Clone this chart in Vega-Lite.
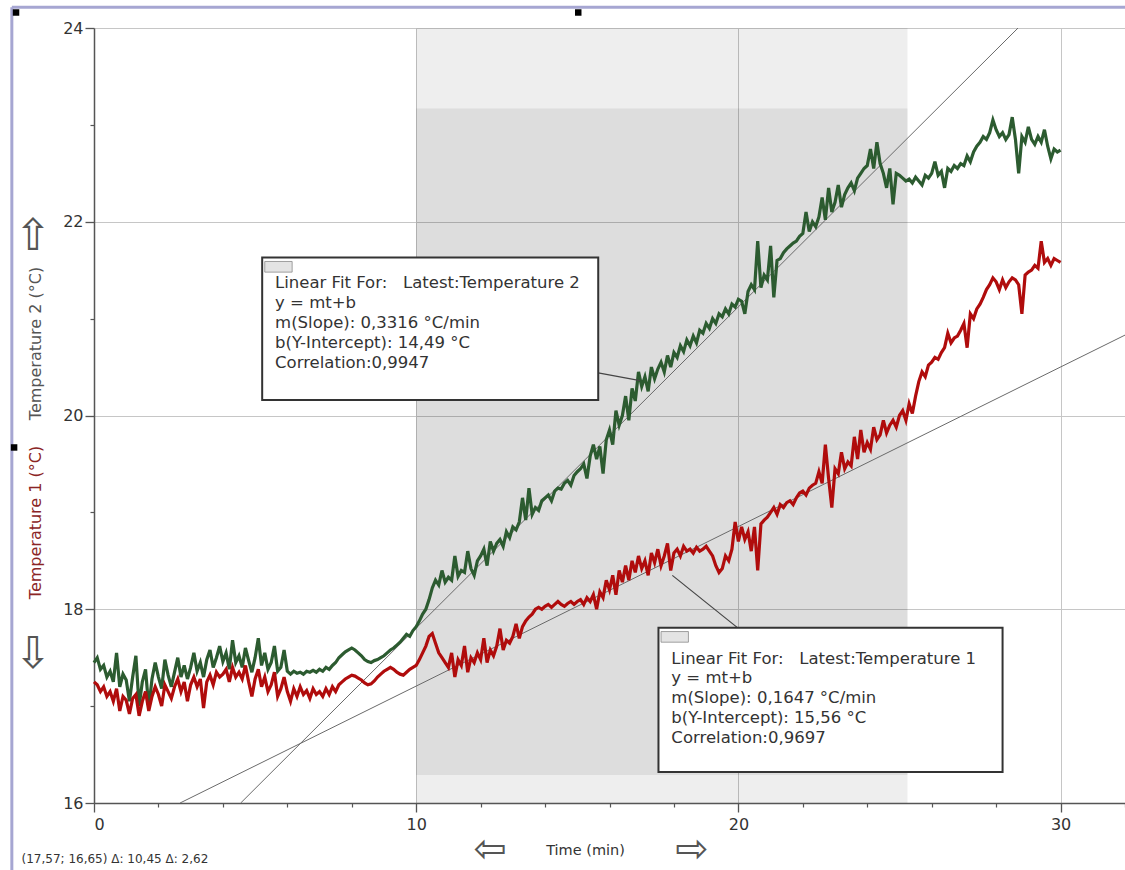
{
  "$schema": "https://vega.github.io/schema/vega-lite/v6.json",
  "width": 1031,
  "height": 775,
  "autosize": "none",
  "padding": {"left": 94, "top": 28, "right": 0, "bottom": 67},
  "background": "white",
  "config": {"view": {"stroke": null}, "font": "DejaVu Sans"},
  "datasets": {
    "temps": [
      {"t":0.0,"g":17.45,"r":17.25},{"t":0.1,"g":17.50,"r":17.22},{"t":0.2,"g":17.38,"r":17.15},{"t":0.3,"g":17.42,"r":17.20},{"t":0.4,"g":17.30,"r":17.10},
      {"t":0.5,"g":17.36,"r":17.15},{"t":0.6,"g":17.25,"r":17.05},{"t":0.7,"g":17.55,"r":17.18},{"t":0.8,"g":17.20,"r":16.95},{"t":0.9,"g":17.33,"r":17.10},
      {"t":1.0,"g":17.27,"r":17.06},{"t":1.1,"g":17.05,"r":16.92},{"t":1.2,"g":17.30,"r":17.08},{"t":1.3,"g":17.52,"r":17.12},{"t":1.4,"g":17.00,"r":16.90},
      {"t":1.5,"g":17.25,"r":17.05},{"t":1.6,"g":17.38,"r":17.15},{"t":1.7,"g":16.98,"r":16.95},{"t":1.8,"g":17.28,"r":17.10},{"t":1.9,"g":17.45,"r":17.20},
      {"t":2.0,"g":17.30,"r":17.12},{"t":2.1,"g":17.18,"r":17.00},{"t":2.2,"g":17.48,"r":17.22},{"t":2.3,"g":17.32,"r":17.15},{"t":2.4,"g":17.20,"r":17.08},
      {"t":2.5,"g":17.35,"r":17.20},{"t":2.6,"g":17.50,"r":17.28},{"t":2.7,"g":17.30,"r":17.15},{"t":2.8,"g":17.42,"r":17.25},{"t":2.9,"g":17.28,"r":17.05},
      {"t":3.0,"g":17.40,"r":17.22},{"t":3.1,"g":17.55,"r":17.30},{"t":3.2,"g":17.36,"r":17.20},{"t":3.3,"g":17.45,"r":17.28},{"t":3.4,"g":17.30,"r":16.98},
      {"t":3.5,"g":17.48,"r":17.25},{"t":3.6,"g":17.58,"r":17.32},{"t":3.7,"g":17.40,"r":17.22},{"t":3.8,"g":17.50,"r":17.35},{"t":3.9,"g":17.62,"r":17.30},
      {"t":4.0,"g":17.46,"r":17.33},{"t":4.1,"g":17.55,"r":17.38},{"t":4.2,"g":17.38,"r":17.25},{"t":4.3,"g":17.68,"r":17.40},{"t":4.4,"g":17.45,"r":17.30},
      {"t":4.5,"g":17.52,"r":17.35},{"t":4.6,"g":17.40,"r":17.28},{"t":4.7,"g":17.60,"r":17.42},{"t":4.8,"g":17.47,"r":17.25},{"t":4.9,"g":17.35,"r":17.10},
      {"t":5.0,"g":17.50,"r":17.28},{"t":5.1,"g":17.70,"r":17.38},{"t":5.2,"g":17.42,"r":17.20},{"t":5.3,"g":17.55,"r":17.30},{"t":5.4,"g":17.38,"r":17.15},
      {"t":5.5,"g":17.45,"r":17.22},{"t":5.6,"g":17.62,"r":17.35},{"t":5.7,"g":17.36,"r":17.10},{"t":5.8,"g":17.40,"r":17.18},{"t":5.9,"g":17.58,"r":17.30},
      {"t":6.0,"g":17.36,"r":17.15},{"t":6.1,"g":17.33,"r":17.05},{"t":6.2,"g":17.36,"r":17.18},{"t":6.3,"g":17.34,"r":17.10},{"t":6.4,"g":17.35,"r":17.20},
      {"t":6.5,"g":17.33,"r":17.12},{"t":6.6,"g":17.36,"r":17.16},{"t":6.7,"g":17.35,"r":17.08},{"t":6.8,"g":17.37,"r":17.18},{"t":6.9,"g":17.35,"r":17.12},
      {"t":7.0,"g":17.38,"r":17.15},{"t":7.1,"g":17.36,"r":17.10},{"t":7.2,"g":17.40,"r":17.18},{"t":7.3,"g":17.38,"r":17.12},{"t":7.4,"g":17.42,"r":17.20},
      {"t":7.5,"g":17.45,"r":17.15},{"t":7.6,"g":17.50,"r":17.22},{"t":7.7,"g":17.53,"r":17.25},{"t":7.8,"g":17.56,"r":17.28},{"t":7.9,"g":17.58,"r":17.30},
      {"t":8.0,"g":17.60,"r":17.32},{"t":8.1,"g":17.58,"r":17.31},{"t":8.2,"g":17.55,"r":17.29},{"t":8.3,"g":17.52,"r":17.27},{"t":8.4,"g":17.48,"r":17.24},
      {"t":8.5,"g":17.46,"r":17.22},{"t":8.6,"g":17.45,"r":17.23},{"t":8.7,"g":17.47,"r":17.26},{"t":8.8,"g":17.48,"r":17.30},{"t":8.9,"g":17.50,"r":17.33},
      {"t":9.0,"g":17.52,"r":17.36},{"t":9.1,"g":17.55,"r":17.38},{"t":9.2,"g":17.58,"r":17.40},{"t":9.3,"g":17.60,"r":17.38},{"t":9.4,"g":17.63,"r":17.35},
      {"t":9.5,"g":17.66,"r":17.33},{"t":9.6,"g":17.70,"r":17.32},{"t":9.7,"g":17.74,"r":17.35},{"t":9.8,"g":17.72,"r":17.38},{"t":9.9,"g":17.78,"r":17.40},
      {"t":10.0,"g":17.82,"r":17.42},{"t":10.1,"g":17.88,"r":17.48},{"t":10.2,"g":17.95,"r":17.55},{"t":10.3,"g":18.00,"r":17.62},{"t":10.4,"g":18.10,"r":17.72},
      {"t":10.5,"g":18.22,"r":17.75},{"t":10.6,"g":18.30,"r":17.65},{"t":10.7,"g":18.25,"r":17.55},{"t":10.8,"g":18.40,"r":17.50},{"t":10.9,"g":18.28,"r":17.45},
      {"t":11.0,"g":18.33,"r":17.40},{"t":11.1,"g":18.30,"r":17.55},{"t":11.2,"g":18.55,"r":17.30},{"t":11.3,"g":18.34,"r":17.48},{"t":11.4,"g":18.40,"r":17.42},
      {"t":11.5,"g":18.38,"r":17.62},{"t":11.6,"g":18.60,"r":17.35},{"t":11.7,"g":18.42,"r":17.50},{"t":11.8,"g":18.35,"r":17.45},{"t":11.9,"g":18.50,"r":17.55},
      {"t":12.0,"g":18.55,"r":17.48},{"t":12.1,"g":18.62,"r":17.70},{"t":12.2,"g":18.45,"r":17.45},{"t":12.3,"g":18.70,"r":17.58},{"t":12.4,"g":18.60,"r":17.52},
      {"t":12.5,"g":18.68,"r":17.62},{"t":12.6,"g":18.72,"r":17.80},{"t":12.7,"g":18.65,"r":17.58},{"t":12.8,"g":18.80,"r":17.68},{"t":12.9,"g":18.74,"r":17.65},
      {"t":13.0,"g":18.85,"r":17.72},{"t":13.1,"g":18.82,"r":17.85},{"t":13.2,"g":18.90,"r":17.70},{"t":13.3,"g":19.15,"r":17.82},{"t":13.4,"g":18.92,"r":17.88},
      {"t":13.5,"g":19.25,"r":17.92},{"t":13.6,"g":18.98,"r":17.95},{"t":13.7,"g":19.05,"r":18.00},{"t":13.8,"g":19.02,"r":18.02},{"t":13.9,"g":19.12,"r":18.00},
      {"t":14.0,"g":19.15,"r":18.03},{"t":14.1,"g":19.18,"r":18.05},{"t":14.2,"g":19.12,"r":18.02},{"t":14.3,"g":19.22,"r":18.05},{"t":14.4,"g":19.25,"r":18.08},
      {"t":14.5,"g":19.24,"r":18.05},{"t":14.6,"g":19.30,"r":18.03},{"t":14.7,"g":19.33,"r":18.06},{"t":14.8,"g":19.28,"r":18.08},{"t":14.9,"g":19.38,"r":18.05},
      {"t":15.0,"g":19.42,"r":18.08},{"t":15.1,"g":19.45,"r":18.10},{"t":15.2,"g":19.50,"r":18.05},{"t":15.3,"g":19.35,"r":18.12},{"t":15.4,"g":19.58,"r":18.08},
      {"t":15.5,"g":19.70,"r":18.15},{"t":15.6,"g":19.55,"r":18.00},{"t":15.7,"g":19.68,"r":18.18},{"t":15.8,"g":19.40,"r":18.12},{"t":15.9,"g":19.75,"r":18.30},
      {"t":16.0,"g":19.85,"r":18.20},{"t":16.1,"g":19.70,"r":18.35},{"t":16.2,"g":20.05,"r":18.15},{"t":16.3,"g":19.90,"r":18.40},{"t":16.4,"g":20.00,"r":18.28},
      {"t":16.5,"g":20.20,"r":18.45},{"t":16.6,"g":19.95,"r":18.30},{"t":16.7,"g":20.28,"r":18.50},{"t":16.8,"g":20.15,"r":18.38},{"t":16.9,"g":20.45,"r":18.55},
      {"t":17.0,"g":20.30,"r":18.42},{"t":17.1,"g":20.40,"r":18.50},{"t":17.2,"g":20.25,"r":18.35},{"t":17.3,"g":20.50,"r":18.58},{"t":17.4,"g":20.38,"r":18.48},
      {"t":17.5,"g":20.48,"r":18.62},{"t":17.6,"g":20.55,"r":18.45},{"t":17.7,"g":20.45,"r":18.55},{"t":17.8,"g":20.62,"r":18.68},{"t":17.9,"g":20.50,"r":18.40},
      {"t":18.0,"g":20.65,"r":18.58},{"t":18.1,"g":20.60,"r":18.62},{"t":18.2,"g":20.72,"r":18.55},{"t":18.3,"g":20.66,"r":18.65},{"t":18.4,"g":20.78,"r":18.60},
      {"t":18.5,"g":20.72,"r":18.62},{"t":18.6,"g":20.82,"r":18.58},{"t":18.7,"g":20.75,"r":18.64},{"t":18.8,"g":20.88,"r":18.60},{"t":18.9,"g":20.85,"r":18.62},
      {"t":19.0,"g":20.95,"r":18.65},{"t":19.1,"g":20.90,"r":18.60},{"t":19.2,"g":21.00,"r":18.55},{"t":19.3,"g":20.95,"r":18.45},{"t":19.4,"g":21.05,"r":18.38},
      {"t":19.5,"g":21.02,"r":18.42},{"t":19.6,"g":21.10,"r":18.55},{"t":19.7,"g":21.05,"r":18.50},{"t":19.8,"g":21.15,"r":18.62},{"t":19.9,"g":21.12,"r":18.90},
      {"t":20.0,"g":21.20,"r":18.70},{"t":20.1,"g":21.18,"r":18.85},{"t":20.2,"g":21.05,"r":18.72},{"t":20.3,"g":21.28,"r":18.80},{"t":20.4,"g":21.35,"r":18.60},
      {"t":20.5,"g":21.30,"r":18.85},{"t":20.6,"g":21.80,"r":18.40},{"t":20.7,"g":21.32,"r":18.88},{"t":20.8,"g":21.45,"r":18.92},{"t":20.9,"g":21.40,"r":18.95},
      {"t":21.0,"g":21.75,"r":19.00},{"t":21.1,"g":21.22,"r":19.05},{"t":21.2,"g":21.60,"r":18.98},{"t":21.3,"g":21.62,"r":19.08},{"t":21.4,"g":21.68,"r":19.05},
      {"t":21.5,"g":21.72,"r":19.10},{"t":21.6,"g":21.75,"r":19.12},{"t":21.7,"g":21.78,"r":19.08},{"t":21.8,"g":21.80,"r":19.15},{"t":21.9,"g":21.85,"r":19.20},
      {"t":22.0,"g":21.88,"r":19.22},{"t":22.1,"g":22.10,"r":19.18},{"t":22.2,"g":21.90,"r":19.25},{"t":22.3,"g":22.00,"r":19.28},{"t":22.4,"g":21.95,"r":19.30},
      {"t":22.5,"g":22.05,"r":19.42},{"t":22.6,"g":22.25,"r":19.30},{"t":22.7,"g":22.02,"r":19.70},{"t":22.8,"g":22.35,"r":19.35},{"t":22.9,"g":22.10,"r":19.05},
      {"t":23.0,"g":22.20,"r":19.45},{"t":23.1,"g":22.38,"r":19.40},{"t":23.2,"g":22.15,"r":19.62},{"t":23.3,"g":22.28,"r":19.45},{"t":23.4,"g":22.35,"r":19.52},
      {"t":23.5,"g":22.40,"r":19.48},{"t":23.6,"g":22.32,"r":19.78},{"t":23.7,"g":22.45,"r":19.55},{"t":23.8,"g":22.50,"r":19.85},{"t":23.9,"g":22.55,"r":19.62},
      {"t":24.0,"g":22.58,"r":19.72},{"t":24.1,"g":22.75,"r":19.65},{"t":24.2,"g":22.55,"r":19.88},{"t":24.3,"g":22.82,"r":19.75},{"t":24.4,"g":22.60,"r":19.80},
      {"t":24.5,"g":22.50,"r":19.95},{"t":24.6,"g":22.35,"r":19.82},{"t":24.7,"g":22.55,"r":19.90},{"t":24.8,"g":22.18,"r":19.95},{"t":24.9,"g":22.50,"r":19.88},
      {"t":25.0,"g":22.48,"r":20.00},{"t":25.1,"g":22.45,"r":20.05},{"t":25.2,"g":22.42,"r":19.95},{"t":25.3,"g":22.44,"r":20.12},{"t":25.4,"g":22.40,"r":20.02},
      {"t":25.5,"g":22.46,"r":20.20},{"t":25.6,"g":22.42,"r":20.35},{"t":25.7,"g":22.38,"r":20.45},{"t":25.8,"g":22.48,"r":20.40},{"t":25.9,"g":22.45,"r":20.52},
      {"t":26.0,"g":22.50,"r":20.55},{"t":26.1,"g":22.62,"r":20.60},{"t":26.2,"g":22.48,"r":20.58},{"t":26.3,"g":22.52,"r":20.65},{"t":26.4,"g":22.35,"r":20.70},
      {"t":26.5,"g":22.55,"r":20.85},{"t":26.6,"g":22.52,"r":20.75},{"t":26.7,"g":22.58,"r":20.80},{"t":26.8,"g":22.55,"r":20.82},{"t":26.9,"g":22.60,"r":20.88},
      {"t":27.0,"g":22.58,"r":20.95},{"t":27.1,"g":22.68,"r":20.70},{"t":27.2,"g":22.62,"r":21.05},{"t":27.3,"g":22.72,"r":21.00},{"t":27.4,"g":22.78,"r":21.10},
      {"t":27.5,"g":22.82,"r":21.15},{"t":27.6,"g":22.88,"r":21.22},{"t":27.7,"g":22.85,"r":21.30},{"t":27.8,"g":22.92,"r":21.35},{"t":27.9,"g":23.05,"r":21.42},
      {"t":28.0,"g":22.95,"r":21.38},{"t":28.1,"g":22.88,"r":21.30},{"t":28.2,"g":22.92,"r":21.40},{"t":28.3,"g":22.85,"r":21.32},{"t":28.4,"g":22.90,"r":21.38},
      {"t":28.5,"g":23.08,"r":21.42},{"t":28.6,"g":22.85,"r":21.40},{"t":28.7,"g":22.50,"r":21.35},{"t":28.8,"g":22.88,"r":21.05},{"t":28.9,"g":22.82,"r":21.45},
      {"t":29.0,"g":22.98,"r":21.48},{"t":29.1,"g":22.85,"r":21.50},{"t":29.2,"g":22.80,"r":21.55},{"t":29.3,"g":22.88,"r":21.52},{"t":29.4,"g":22.82,"r":21.80},
      {"t":29.5,"g":22.95,"r":21.58},{"t":29.6,"g":22.78,"r":21.62},{"t":29.7,"g":22.65,"r":21.55},{"t":29.8,"g":22.75,"r":21.62},{"t":29.9,"g":22.72,"r":21.60},
      {"t":30.0,"g":22.74,"r":21.58}
    ],
    "fits": [
      {"k":"T2","t":4.553,"v":16},{"k":"T2","t":28.68,"v":24},
      {"k":"T1","t":2.671,"v":16},{"k":"T1","t":32,"v":20.83}
    ],
    "leaders": [
      {"k":"a","t":15.65,"v":20.44},{"k":"a","t":16.95,"v":20.36},
      {"k":"b","t":17.95,"v":18.35},{"k":"b","t":19.97,"v":17.81}
    ],
    "boxes": [
      {"t":5.22,"t2":15.65,"v":20.16,"v2":21.63},
      {"t":17.52,"t2":28.2,"v":16.32,"v2":17.81}
    ],
    "icons": [
      {"t":5.3,"t2":6.15,"v":21.48,"v2":21.59},
      {"t":17.6,"t2":18.45,"v":17.66,"v2":17.77}
    ],
    "notes": [
      {"t":5.62,"v":21.372,"text":"Linear Fit For:  \u00a0 Latest:Temperature 2"},
      {"t":5.62,"v":21.165,"text":"y = mt+b"},
      {"t":5.62,"v":20.959,"text":"m(Slope): 0,3316 °C/min"},
      {"t":5.62,"v":20.752,"text":"b(Y-Intercept): 14,49 °C"},
      {"t":5.62,"v":20.545,"text":"Correlation:0,9947"},
      {"t":17.92,"v":17.488,"text":"Linear Fit For:  \u00a0 Latest:Temperature 1"},
      {"t":17.92,"v":17.291,"text":"y = mt+b"},
      {"t":17.92,"v":17.085,"text":"m(Slope): 0,1647 °C/min"},
      {"t":17.92,"v":16.878,"text":"b(Y-Intercept): 15,56 °C"},
      {"t":17.92,"v":16.671,"text":"Correlation:0,9697"}
    ],
    "varrows": [
      {"t":-1.89,"v":21.84,"text":"⇧"},
      {"t":-1.89,"v":17.53,"text":"⇩"}
    ],
    "harrows": [
      {"t":12.3,"v":15.52,"text":"⇦"},
      {"t":18.57,"v":15.52,"text":"⇨"}
    ],
    "status": [
      {"t":-2.25,"v":15.42,"text":"(17,57; 16,65)  Δ: 10,45  Δ: 2,62"}
    ],
    "frame": [
      {"t":-2.55,"t2":32.2,"v":24.213,"v2":24.213},
      {"t":-2.55,"t2":-2.55,"v":24.213,"v2":15.0}
    ],
    "handles": [
      {"t":-2.42,"v":24.16},{"t":15.03,"v":24.16},{"t":-2.48,"v":19.67}
    ]
  },
  "layer": [
    {
      "data": {"values": [{"t":10,"t2":25.25,"v":16,"v2":24}]},
      "mark": {"type": "rect", "fill": "black", "opacity": 0.066},
      "encoding": {
        "x": {"field": "t", "type": "quantitative", "scale": {"domain": [0, 32], "nice": false, "zero": false},
          "axis": {"orient": "bottom", "values": [0, 10, 20, 30], "tickSize": 9, "grid": true,
            "gridColor": "#c6c6c6", "gridWidth": 1,
            "domainColor": "#555", "domainWidth": 1.5, "tickColor": "#555", "tickWidth": 1.3,
            "labelFontSize": 16, "labelColor": "#333", "labelPadding": 4, "labelFont": "DejaVu Sans",
            "title": "Time (min)", "titleFontSize": 14.5, "titleFontWeight": "normal", "titleColor": "#333",
            "titleFont": "DejaVu Sans", "titleX": 491, "titleY": 47, "titleBaseline": "middle", "titleAlign": "center"}},
        "x2": {"field": "t2"},
        "y": {"field": "v", "type": "quantitative", "scale": {"domain": [16, 24], "nice": false, "zero": false},
          "axis": {"orient": "left", "values": [16, 18, 20, 22, 24], "tickSize": 9, "grid": true,
            "gridColor": "#c6c6c6", "gridWidth": 1,
            "domainColor": "#555", "domainWidth": 1.5, "tickColor": "#555", "tickWidth": 1.3,
            "labelFontSize": 16, "labelColor": "#333", "labelPadding": 2, "labelFont": "DejaVu Sans",
            "title": "Temperature 1 (°C)", "titleFontSize": 16, "titleFontWeight": "normal", "titleColor": "#8b2525",
            "titleFont": "DejaVu Sans", "titleX": -59, "titleY": 494, "titleAngle": -90,
            "titleBaseline": "middle", "titleAlign": "center"}},
        "y2": {"field": "v2"}
      }
    },
    {
      "data": {"values": [{"t":10,"t2":25.25,"v":16.29,"v2":23.17}]},
      "mark": {"type": "rect", "fill": "black", "opacity": 0.072},
      "encoding": {
        "x": {"field": "t", "type": "quantitative", "scale": {"domain": [0, 32], "nice": false, "zero": false},
          "axis": {"orient": "bottom", "values": [2,4,6,8,12,14,16,18,22,24,26,28,32], "tickSize": 4, "grid": false,
            "domain": false, "labels": false, "title": null, "tickColor": "#555", "tickWidth": 1.2}},
        "x2": {"field": "t2"},
        "y": {"field": "v", "type": "quantitative", "scale": {"domain": [16, 24], "nice": false, "zero": false},
          "axis": {"orient": "left", "values": [17, 19, 21, 23], "tickSize": 4, "grid": false,
            "domain": false, "labels": false, "tickColor": "#555", "tickWidth": 1.2,
            "title": "Temperature 2 (°C)", "titleFontSize": 16, "titleFontWeight": "normal", "titleColor": "#555",
            "titleFont": "DejaVu Sans", "titleX": -59, "titleY": 315, "titleAngle": -90,
            "titleBaseline": "middle", "titleAlign": "center"}},
        "y2": {"field": "v2"}
      }
    },
    {
      "data": {"name": "fits"},
      "mark": {"type": "line", "color": "#6a6a6a", "strokeWidth": 1, "clip": true},
      "encoding": {
        "x": {"field": "t", "type": "quantitative", "scale": {"domain": [0, 32], "nice": false, "zero": false}, "axis": null},
        "y": {"field": "v", "type": "quantitative", "scale": {"domain": [16, 24], "nice": false, "zero": false}, "axis": null},
        "detail": {"field": "k"}
      }
    },
    {
      "data": {"name": "temps"},
      "mark": {"type": "line", "color": "#2c5b30", "strokeWidth": 3.2, "strokeJoin": "miter"},
      "encoding": {
        "x": {"field": "t", "type": "quantitative", "scale": {"domain": [0, 32], "nice": false, "zero": false}, "axis": null},
        "y": {"field": "g", "type": "quantitative", "scale": {"domain": [16, 24], "nice": false, "zero": false}, "axis": null}
      }
    },
    {
      "data": {"name": "temps"},
      "mark": {"type": "line", "color": "#b00c0c", "strokeWidth": 3.2, "strokeJoin": "miter"},
      "encoding": {
        "x": {"field": "t", "type": "quantitative", "scale": {"domain": [0, 32], "nice": false, "zero": false}, "axis": null},
        "y": {"field": "r", "type": "quantitative", "scale": {"domain": [16, 24], "nice": false, "zero": false}, "axis": null}
      }
    },
    {
      "data": {"name": "leaders"},
      "mark": {"type": "line", "color": "#444", "strokeWidth": 1.2},
      "encoding": {
        "x": {"field": "t", "type": "quantitative", "scale": {"domain": [0, 32], "nice": false, "zero": false}, "axis": null},
        "y": {"field": "v", "type": "quantitative", "scale": {"domain": [16, 24], "nice": false, "zero": false}, "axis": null},
        "detail": {"field": "k"}
      }
    },
    {
      "data": {"name": "boxes"},
      "mark": {"type": "rect", "fill": "white", "stroke": "#333", "strokeWidth": 2},
      "encoding": {
        "x": {"field": "t", "type": "quantitative", "scale": {"domain": [0, 32], "nice": false, "zero": false}, "axis": null},
        "x2": {"field": "t2"},
        "y": {"field": "v", "type": "quantitative", "scale": {"domain": [16, 24], "nice": false, "zero": false}, "axis": null},
        "y2": {"field": "v2"}
      }
    },
    {
      "data": {"name": "icons"},
      "mark": {"type": "rect", "fill": "#e4e4e4", "stroke": "#8a8a8a", "strokeWidth": 0.8},
      "encoding": {
        "x": {"field": "t", "type": "quantitative", "scale": {"domain": [0, 32], "nice": false, "zero": false}, "axis": null},
        "x2": {"field": "t2"},
        "y": {"field": "v", "type": "quantitative", "scale": {"domain": [16, 24], "nice": false, "zero": false}, "axis": null},
        "y2": {"field": "v2"}
      }
    },
    {
      "data": {"name": "notes"},
      "mark": {"type": "text", "align": "left", "baseline": "middle", "fontSize": 16.5, "color": "#333", "font": "DejaVu Sans"},
      "encoding": {
        "x": {"field": "t", "type": "quantitative", "scale": {"domain": [0, 32], "nice": false, "zero": false}, "axis": null},
        "y": {"field": "v", "type": "quantitative", "scale": {"domain": [16, 24], "nice": false, "zero": false}, "axis": null},
        "text": {"field": "text"}
      }
    },
    {
      "data": {"name": "frame"},
      "mark": {"type": "rule", "color": "#a6a6d2", "strokeWidth": 3, "clip": false},
      "encoding": {
        "x": {"field": "t", "type": "quantitative", "scale": {"domain": [0, 32], "nice": false, "zero": false}, "axis": null},
        "x2": {"field": "t2"},
        "y": {"field": "v", "type": "quantitative", "scale": {"domain": [16, 24], "nice": false, "zero": false}, "axis": null},
        "y2": {"field": "v2"}
      }
    },
    {
      "data": {"name": "handles"},
      "mark": {"type": "point", "shape": "square", "filled": true, "color": "black", "size": 42, "opacity": 1, "clip": false},
      "encoding": {
        "x": {"field": "t", "type": "quantitative", "scale": {"domain": [0, 32], "nice": false, "zero": false}, "axis": null},
        "y": {"field": "v", "type": "quantitative", "scale": {"domain": [16, 24], "nice": false, "zero": false}, "axis": null}
      }
    },
    {
      "data": {"name": "varrows"},
      "mark": {"type": "text", "align": "center", "baseline": "middle", "fontSize": 44, "color": "#555", "font": "DejaVu Sans", "clip": false},
      "encoding": {
        "x": {"field": "t", "type": "quantitative", "scale": {"domain": [0, 32], "nice": false, "zero": false}, "axis": null},
        "y": {"field": "v", "type": "quantitative", "scale": {"domain": [16, 24], "nice": false, "zero": false}, "axis": null},
        "text": {"field": "text"}
      }
    },
    {
      "data": {"name": "harrows"},
      "mark": {"type": "text", "align": "center", "baseline": "middle", "fontSize": 40, "color": "#555", "font": "DejaVu Sans", "clip": false},
      "encoding": {
        "x": {"field": "t", "type": "quantitative", "scale": {"domain": [0, 32], "nice": false, "zero": false}, "axis": null},
        "y": {"field": "v", "type": "quantitative", "scale": {"domain": [16, 24], "nice": false, "zero": false}, "axis": null},
        "text": {"field": "text"}
      }
    },
    {
      "data": {"name": "status"},
      "mark": {"type": "text", "align": "left", "baseline": "middle", "fontSize": 12, "color": "#333", "font": "DejaVu Sans", "clip": false},
      "encoding": {
        "x": {"field": "t", "type": "quantitative", "scale": {"domain": [0, 32], "nice": false, "zero": false}, "axis": null},
        "y": {"field": "v", "type": "quantitative", "scale": {"domain": [16, 24], "nice": false, "zero": false}, "axis": null},
        "text": {"field": "text"}
      }
    }
  ],
  "resolve": {"scale": {"x": "independent", "y": "independent"}}
}
